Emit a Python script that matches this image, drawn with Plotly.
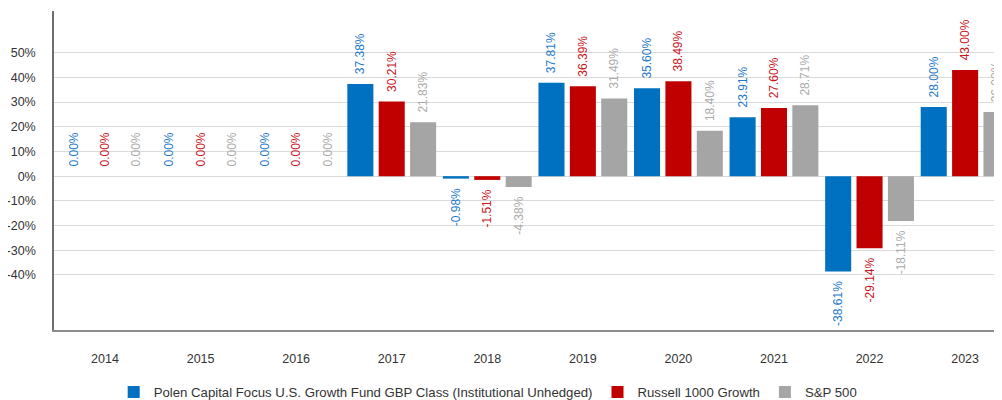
import plotly.graph_objects as go

years = ["2014", "2015", "2016", "2017", "2018", "2019", "2020", "2021", "2022", "2023"]
polen = [0.00, 0.00, 0.00, 37.38, -0.98, 37.81, 35.60, 23.91, -38.61, 28.00]
russell = [0.00, 0.00, 0.00, 30.21, -1.51, 36.39, 38.49, 27.60, -29.14, 43.00]
sp500 = [0.00, 0.00, 0.00, 21.83, -4.38, 31.49, 18.40, 28.71, -18.11, 26.00]

series = [
    ("Polen Capital Focus U.S. Growth Fund GBP Class (Institutional Unhedged)", polen, "#0070C0", "#1F7ACB"),
    ("Russell 1000 Growth", russell, "#C00000", "#C8161B"),
    ("S&P 500", sp500, "#A5A5A5", "#ABABAB"),
]

y_ticks = [-40, -30, -20, -10, 0, 10, 20, 30, 40, 50]
y_ticktext = [f"{v}%" for v in y_ticks]

NB = "\u00a0\u00a0"


def labels(vals):
    return [f"{NB}{v:.2f}%" if v >= 0 else f"{v:.2f}%{NB}" for v in vals]


fig = go.Figure()
for name, vals, col, tcol in series:
    fig.add_trace(go.Bar(
        x=years, y=vals, name=name,
        marker=dict(color=col, line=dict(width=0)),
        text=labels(vals), textposition="outside", textangle=-90,
        textfont=dict(color=tcol, size=12, family="Liberation Sans, Arial"),
        constraintext="none", cliponaxis=False, hoverinfo="skip",
    ))

fig.update_layout(
    width=994, height=392,
    margin=dict(l=46, r=0, t=3, b=70, autoexpand=False),
    paper_bgcolor="white", plot_bgcolor="white",
    barmode="group", bargap=0.015, bargroupgap=0.17,
    font=dict(family="Liberation Sans, Arial", size=12, color="#333333"),
    showlegend=True,
    legend=dict(orientation="h", x=0.458, xanchor="center", y=-0.196, yanchor="middle",
                font=dict(size=13.2, color="#333333"), itemwidth=30,
                bgcolor="rgba(0,0,0,0)"),
)
fig.update_xaxes(
    type="category", range=[-0.534, 9.386], automargin=False,
    showline=True, linecolor="#8C8C8C", linewidth=1.5,
    showgrid=False, ticks="", ticklabelstandoff=16,
    tickfont=dict(size=12.5, color="#333333"),
)
fig.update_yaxes(
    range=[-62.3, 66.9], automargin=False,
    tickvals=y_ticks, ticktext=y_ticktext,
    showline=True, linecolor="#6E6E6E", linewidth=1.5,
    showgrid=True, gridcolor="#DADADA", gridwidth=1.2,
    zeroline=True, zerolinecolor="#DADADA", zerolinewidth=1.2,
    ticks="", ticklabelstandoff=14,
    tickfont=dict(size=12.5, color="#333333"),
)

fig.write_html("out.html")
